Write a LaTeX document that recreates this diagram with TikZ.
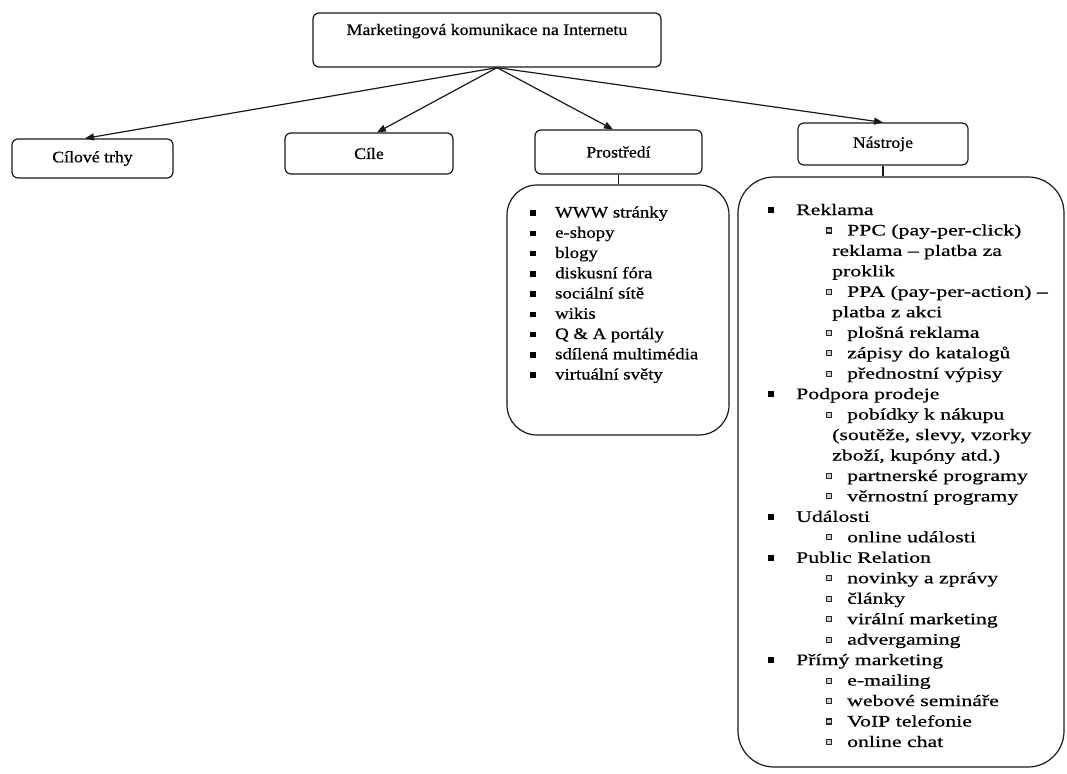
\documentclass[tikz,border=0pt]{standalone}
\usepackage{fontspec}
\setmainfont{Liberation Serif}
\newfontfamily\titlefont[FakeStretch=1.11,FakeBold=0.6]{Liberation Serif}
\newfontfamily\pfont[FakeStretch=1.17,FakeBold=0.6]{Liberation Serif}
\newfontfamily\nfont[FakeStretch=1.36,FakeBold=0.6]{Liberation Serif}
\usetikzlibrary{arrows.meta,calc}
\tikzset{
  box/.style={draw=black!90, line width=1.2pt, rounded corners=6pt, inner sep=0pt,
    font=\titlefont\fontsize{16}{18}\selectfont},
  listbox/.style={draw=black!90, line width=1.2pt, inner sep=0pt},
  conn/.style={draw=black!90, line width=1.2pt},
  arr/.style={conn, -{Triangle[length=9pt,width=7pt]}},
  itemtext/.style={anchor=base west, inner sep=0pt},
  bulA/.style={fill=black, inner sep=0pt, minimum size=5.5pt},
  bulB/.style={draw=black!85, fill=black!20, line width=1.1pt, inner sep=0pt, minimum size=5pt},
}
\begin{document}
\begin{tikzpicture}[x=1pt,y=-1pt]
\path[use as bounding box, fill=white] (0,0) rectangle (1067,773);

% title boxes
\node[box, minimum width=348pt, text height=12pt, text depth=22pt, inner ysep=10pt] (top) at (487,40) {Marketingová komunikace na Internetu};
\node[box, minimum width=161pt, minimum height=39pt] (cil) at (92.5,158.5) {Cílové trhy};
\node[box, minimum width=168pt, minimum height=41pt] (cile) at (369,153.5) {Cíle};
\node[box, minimum width=167pt, minimum height=44pt] (pro) at (618.5,152) {Prostředí};
\node[box, minimum width=170pt, minimum height=42pt] (nas) at (883,144) {Nástroje};

% arrows
\coordinate (hub) at ([xshift=10pt]top.south);
\draw[arr] (hub) -- ([xshift=-7.5pt]cil.north);
\draw[arr] (hub) -- ([xshift=8pt]cile.north);
\draw[arr] (hub) -- ([xshift=-5.5pt]pro.north);
\draw[arr] (hub) -- (nas.north);

% list boxes
\node[listbox, rounded corners=30pt, minimum width=222pt, minimum height=250pt] (plist) at (618,310) {};
\node[listbox, rounded corners=36pt, minimum width=326pt, minimum height=590pt] (nlist) at (901,472) {};
\draw[conn] (pro.south) -- (pro.south |- plist.north);
\draw[conn] (nas.south) -- (nas.south |- nlist.north);

% Prostredi list
\foreach \t [count=\i from 0] in {WWW stránky, e-shopy, blogy, diskusní fóra, sociální sítě, wikis, Q \& A portály, sdílená multimédia, virtuální světy}{
  \node[bulA] (pb\i) at (533, 213+20.25*\i) {};
  \node[itemtext, font=\pfont\fontsize{16}{18}\selectfont] (pt\i) at (555, 217.5+20.25*\i) {\t};
}

% Nastroje list
\foreach \l/\t [count=\i from 0] in {
  1/Reklama,
  2/PPC (pay-per-click),
  0/reklama – platba za,
  0/proklik,
  2/PPA (pay-per-action) –,
  0/platba z akci,
  2/plošná reklama,
  2/zápisy do katalogů,
  2/přednostní výpisy,
  1/Podpora prodeje,
  2/pobídky k nákupu,
  {0/(soutěže, slevy, vzorky},
  {0/zboží, kupóny atd.)},
  2/partnerské programy,
  2/věrnostní programy,
  1/Události,
  2/online události,
  1/Public Relation,
  2/novinky a zprávy,
  2/články,
  2/virální marketing,
  2/advergaming,
  1/Přímý marketing,
  2/e-mailing,
  2/webové semináře,
  2/VoIP telefonie,
  2/online chat}{
  \pgfmathsetmacro{\yc}{210+20.46*\i}
  \ifnum\l=1
    \node[bulA] (nb\i) at (771,\yc) {};
    \node[itemtext, font=\nfont\fontsize{16}{18}\selectfont] (nt\i) at (796,\yc+5) {\t};
  \else\ifnum\l=2
    \node[bulB] (nb\i) at (829,\yc) {};
    \node[itemtext, font=\nfont\fontsize{16}{18}\selectfont] (nt\i) at (847,\yc+5) {\t};
  \else
    \node[itemtext, font=\nfont\fontsize{16}{18}\selectfont] (nt\i) at (832,\yc+5) {\t};
  \fi\fi
}
\end{tikzpicture}
\end{document}
